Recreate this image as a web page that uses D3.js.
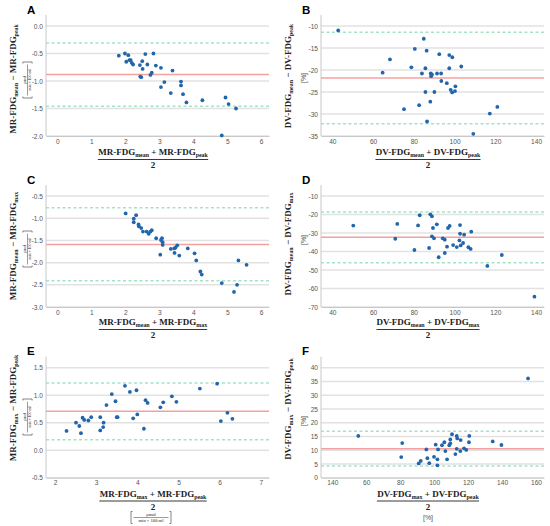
<!DOCTYPE html>
<html>
<head>
<meta charset="utf-8">
<script src="https://cdn.jsdelivr.net/npm/d3@7"></script>
<style>
body { margin: 0; background: #fff; }
</style>
</head>
<body>
<script>
//DATA
var aAvg  = [1.81,1.99,2.09,2.03,2.12,2.16,2.19,2.23,2.43,2.50,2.59,2.83,2.51,2.65,2.90,3.05,3.39,2.78,2.74,2.44,2.47,3.15,3.05,3.64,3.64,3.34,3.70,3.80,4.27,4.95,5.04,5.26,4.84];
var aDiff = [-0.54,-0.50,-0.53,-0.65,-0.62,-0.62,-0.67,-0.70,-0.71,-0.64,-0.51,-0.50,-0.78,-0.70,-0.72,-0.76,-0.81,-0.85,-0.89,-0.92,-0.93,-1.02,-1.11,-1.01,-1.08,-1.22,-1.24,-1.39,-1.35,-1.30,-1.42,-1.50,-1.99];

var bAvg  = [42.9,64.7,68.3,84.9,80.5,86.3,92.5,97.4,98.9,103.3,78.8,85.7,84.0,88.3,88.9,88.5,91.4,93.4,97.4,93.5,96.2,100.4,98.1,98.8,100.2,85.7,90.1,88.1,82.6,75.2,86.5,117.3,109.2,121.0];
var bDiff = [-11.0,-20.6,-17.6,-12.9,-15.2,-15.6,-16.4,-16.6,-17.1,-19.2,-19.4,-19.6,-20.8,-20.8,-21.0,-21.4,-20.8,-20.8,-19.6,-22.5,-23.0,-23.7,-24.5,-25.1,-24.8,-25.0,-25.0,-27.2,-28.0,-28.9,-31.7,-29.9,-34.5,-28.4];

var cAvg  = [2.01,2.32,2.25,2.25,2.39,2.40,2.47,2.52,2.63,2.69,2.74,2.78,2.91,3.05,3.08,3.10,3.10,3.03,3.34,3.44,3.48,3.53,3.45,3.59,3.84,4.04,4.09,4.21,4.25,4.84,5.29,5.20,5.33,5.57];
var cDiff = [-0.89,-0.93,-1.01,-1.09,-1.14,-1.18,-1.22,-1.30,-1.30,-1.35,-1.30,-1.27,-1.45,-1.49,-1.45,-1.54,-1.60,-1.82,-1.69,-1.68,-1.66,-1.61,-1.78,-1.84,-1.68,-1.79,-1.95,-2.20,-2.27,-2.46,-2.50,-2.66,-1.95,-2.05];

var dAvg  = [50.3,71.9,70.9,82.9,82.1,80.3,88.1,88.9,89.4,91.3,88.9,89.9,87.5,92.2,94.2,95.2,95.2,96.3,96.8,97.6,99.3,101.1,102.4,102.7,102.7,103.0,104.2,104.7,106.8,107.9,108.2,116.1,123.2,139.2];
var dDiff = [-26.0,-25.1,-33.1,-20.4,-25.9,-39.2,-19.9,-21.0,-27.3,-25.3,-31.8,-32.9,-38.1,-43.1,-32.9,-33.6,-40.8,-37.4,-27.3,-26.2,-36.5,-37.6,-34.0,-25.7,-30.4,-36.7,-35.4,-30.9,-37.7,-38.6,-29.3,-47.8,-41.9,-64.4];

var eAvg  = [2.28,2.51,2.59,2.63,2.67,2.71,2.81,2.88,3.10,3.10,3.17,3.18,3.25,3.38,3.47,3.50,3.52,3.70,3.82,3.90,3.98,4.00,4.16,4.20,4.25,4.56,4.63,4.84,4.95,5.52,5.94,6.03,6.19,6.31];
var eDiff = [0.35,0.50,0.44,0.31,0.59,0.55,0.54,0.60,0.60,0.36,0.42,0.50,0.82,1.02,0.89,0.60,0.60,1.17,1.06,0.58,1.09,0.65,0.39,0.91,0.86,0.78,0.87,0.98,0.88,1.12,1.21,0.53,0.68,0.57];

var fAvg  = [55.3,81.2,80.6,95.4,100.9,96.0,92.1,90.9,97.1,99.9,101.9,101.9,102.3,104.6,106.0,106.6,107.6,108.9,109.5,109.5,110.5,112.5,113.3,113.6,113.3,115.4,115.6,117.6,118.9,120.5,120.7,134.5,139.6,155.3];
var fDiff = [15.2,12.6,7.5,10.3,12.0,7.1,6.1,5.2,5.3,7.6,6.7,4.5,10.3,11.8,12.9,9.7,6.7,11.8,12.5,13.9,15.8,8.6,15.2,14.3,10.5,9.7,13.7,10.7,10.1,12.9,15.2,13.2,11.9,36.1];

//MEAN DIFFERENCE AND LIMITS OF AGREEMENT (A..F)
var meanDiff = [-0.88, -21.8, -1.59, -32.3, 0.71, 10.5];
var upperLoA = [-0.31, -11.4, -0.76, -18.6, 1.22, 16.9];
var lowerLoA = [-1.46, -32.2, -2.41, -46.1, 0.19, 4.3];

//TICKS
var aXTicks = [0,1,2,3,4,5,6],           aYTicks = [-2,-1.5,-1,-0.5,0];
var bXTicks = [40,60,80,100,120,140],    bYTicks = [-35,-30,-25,-20,-15,-10];
var cXTicks = [0,1,2,3,4,5,6],           cYTicks = [-3,-2.5,-2,-1.5,-1,-0.5];
var dXTicks = [40,60,80,100,120,140],    dYTicks = [-70,-60,-50,-40,-30,-20,-10];
var eXTicks = [2,3,4,5,6,7],             eYTicks = [-0.5,0,0.5,1,1.5];
var fXTicks = [40,60,80,100,120,140,160], fYTicks = [0,5,10,15,20,25,30,35,40];
var fXTickLabels = ["140","60","80","100","120","140","160"];

//LABELS
var panelLetters = ["A","B","C","D","E","F"];
var yTitles = ["MR-FDG_{mean} − MR-FDG_{peak}", "DV-FDG_{mean} − DV-FDG_{peak}",
               "MR-FDG_{mean} − MR-FDG_{max}",  "DV-FDG_{mean} − DV-FDG_{max}",
               "MR-FDG_{max} − MR-FDG_{peak}",  "DV-FDG_{max} − DV-FDG_{peak}"];
var xTitles = ["MR-FDG_{mean} + MR-FDG_{peak}", "DV-FDG_{mean} + DV-FDG_{peak}",
               "MR-FDG_{mean} + MR-FDG_{max}",  "DV-FDG_{mean} + DV-FDG_{max}",
               "MR-FDG_{max} + MR-FDG_{peak}",  "DV-FDG_{max} + DV-FDG_{peak}"];

//LAYOUT
var w = 550, h = 526;
var serif = "'Liberation Serif', 'Times New Roman', serif";
var sans = "'Liberation Sans', Arial, sans-serif";
var dotColor = "#2166ac";
var titleSize = 9;

const svg = d3.select("body").append("svg").attr("width", w).attr("height", h).style("background", "#fff");

var panels = [
  {x: aAvg, y: aDiff, xt: aXTicks, yt: aYTicks, xd: [-0.333, 6.23], yd: [-2.0, 0.2],   ox: 0,   oy: 0,   top: 15,   bot: 136,   unit: "mol", yc: 79, uc: 80},
  {x: bAvg, y: bDiff, xt: bXTicks, yt: bYTicks, xd: [34.45, 143.9], yd: [-35, -7.5],   ox: 275, oy: 0,   top: 15,   bot: 136,   unit: "%",   yc: 76, uc: 78},
  {x: cAvg, y: cDiff, xt: cXTicks, yt: cYTicks, xd: [-0.333, 6.23], yd: [-3.0, -0.25], ox: 0,   oy: 170, top: 15,   bot: 137,   unit: "mol", yc: 76, uc: 79},
  {x: dAvg, y: dDiff, xt: dXTicks, yt: dYTicks, xd: [34.45, 143.9], yd: [-70, -4.05],  ox: 275, oy: 170, top: 15,   bot: 137,   unit: "%",   yc: 74, uc: 70},
  {x: eAvg, y: eDiff, xt: eXTicks, yt: eYTicks, xd: [1.781, 7.2],   yd: [-0.5, 1.7],   ox: 0,   oy: 345, top: 11.7, bot: 132.7, unit: "mol", yc: 63, uc: 72, xunit: "mol"},
  {x: fAvg, y: fDiff, xt: fXTicks, yt: fYTicks, xd: [33.34, 164.7], yd: [0, 44],       ox: 275, oy: 345, top: 11.7, bot: 132.7, unit: "%",   yc: 64, uc: 76, xunit: "%"}
];

//TEXT WITH SUBSCRIPTS
function richText(t, str, size) {
  var parts = str.split(/_\{|\}/);
  var shift = 0;
  parts.forEach(function (p, i) {
    if (p === "") return;
    var sub = i % 2 === 1;
    var want = sub ? size * 0.25 : 0;
    t.append("tspan").text(p)
      .attr("font-size", sub ? size * 0.66 : size)
      .attr("dy", want - shift);
    shift = want;
  });
}

//SMALL [umol / (min x 100 ml)] FRACTION IN BRACKETS
function unitFrac(g, fs, half, hh) {
  g.append("text").attr("text-anchor", "middle").attr("y", -fs * 0.3)
    .attr("font-family", serif).attr("font-size", fs).attr("fill", "#222").text("μmol");
  g.append("line").attr("x1", -half + 2.5).attr("x2", half - 2.5).attr("y1", 0).attr("y2", 0)
    .attr("stroke", "#222").attr("stroke-width", 0.45);
  g.append("text").attr("text-anchor", "middle").attr("y", fs * 0.95)
    .attr("font-family", serif).attr("font-size", fs).attr("fill", "#222").text("min × 100 ml");
  var br = "M" + (-half + 1.5) + "," + (-hh) + "H" + (-half) + "V" + hh + "H" + (-half + 1.5) +
           "M" + (half - 1.5) + "," + (-hh) + "H" + half + "V" + hh + "H" + (half - 1.5);
  g.append("path").attr("d", br).attr("fill", "none").attr("stroke", "#333").attr("stroke-width", 0.6);
}

panels.forEach(function (p, i) {
  var g = svg.append("g").attr("transform", "translate(" + p.ox + "," + p.oy + ")");
  var x = d3.scaleLinear().domain(p.xd).range([46, 269]);
  var y = d3.scaleLinear().domain(p.yd).range([p.bot, p.top]);

  //GRIDLINES
  g.selectAll(".grid").data(p.yt).enter().append("line")
    .attr("x1", 46).attr("x2", 269)
    .attr("y1", function (d) { return y(d); }).attr("y2", function (d) { return y(d); })
    .attr("stroke", "#e2e2e2").attr("stroke-width", 1.5);

  //AXES
  var yAxis = d3.axisLeft(y).tickValues(p.yt).tickSize(0).tickPadding(3)
    .tickFormat(function (d) { return i % 2 === 0 ? d.toFixed(1) : String(d); });
  var xAxis = d3.axisBottom(x).tickValues(p.xt).tickSize(0).tickPadding(3)
    .tickFormat(function (d, k) { return i === 5 ? fXTickLabels[k] : String(d); });

  var ya = g.append("g").attr("transform", "translate(46,0)").call(yAxis);
  var xa = g.append("g").attr("transform", "translate(0," + p.bot + ")").call(xAxis);
  [ya, xa].forEach(function (a) {
    a.select(".domain").attr("stroke", "#c8c8c8").attr("stroke-width", 1);
    a.selectAll("text").attr("font-family", sans).attr("font-size", 6.6).attr("fill", "#555");
  });
  ya.select(".domain").attr("d", "M0," + p.top + "V" + p.bot);

  //MEAN AND LIMITS OF AGREEMENT
  g.append("line").attr("x1", 46).attr("x2", 269)
    .attr("y1", y(meanDiff[i])).attr("y2", y(meanDiff[i]))
    .attr("stroke", "#f4a0a0").attr("stroke-width", 1.5);
  [upperLoA[i], lowerLoA[i]].forEach(function (v) {
    g.append("line").attr("x1", 46).attr("x2", 269)
      .attr("y1", y(v)).attr("y2", y(v))
      .attr("stroke", "#a3e4c3").attr("stroke-width", 1.5).attr("stroke-dasharray", "3,2.5");
  });

  //POINTS
  g.selectAll(".dot").data(p.x).enter().append("circle")
    .attr("cx", function (d) { return x(d); })
    .attr("cy", function (d, k) { return y(p.y[k]); })
    .attr("r", 1.9).attr("fill", dotColor);

  //PANEL LETTER
  g.append("text").attr("x", 27).attr("y", i < 4 ? 14 : 10)
    .attr("font-family", sans).attr("font-weight", "bold")
    .attr("font-size", 11.5).text(panelLetters[i]);

  //Y TITLE
  var yt = g.append("text").attr("text-anchor", "middle")
    .attr("transform", "translate(15.5," + p.yc + ") rotate(-90)")
    .attr("font-family", serif).attr("font-weight", "bold").attr("fill", "#222");
  richText(yt, yTitles[i], titleSize);

  if (p.unit === "%") {
    g.append("text").attr("text-anchor", "middle")
      .attr("transform", "translate(31," + p.uc + ") rotate(-90)")
      .attr("font-family", sans).attr("font-size", 7).attr("fill", "#555").text("[%]");
  } else {
    unitFrac(g.append("g").attr("transform", "translate(27.5," + p.uc + ") rotate(-90)"), 3.9, 18, 4.6);
  }

  //X TITLE AS A FRACTION OVER 2
  var fy = i < 4 ? 0 : -3.5;
  var xt = g.append("text").attr("text-anchor", "middle")
    .attr("transform", "translate(153," + (155 + fy) + ")")
    .attr("font-family", serif).attr("font-weight", "bold").attr("fill", "#222");
  richText(xt, xTitles[i], titleSize);
  var bw = xt.node().getBBox().width;
  g.append("line").attr("x1", 153 - bw / 2).attr("x2", 153 + bw / 2)
    .attr("y1", 159.5 + fy).attr("y2", 159.5 + fy).attr("stroke", "#222").attr("stroke-width", 0.9);
  g.append("text").attr("text-anchor", "middle").attr("x", 153).attr("y", 168 + fy)
    .attr("font-family", serif).attr("font-weight", "bold").attr("font-size", titleSize).attr("fill", "#222").text("2");

  if (p.xunit === "%") {
    g.append("text").attr("text-anchor", "middle").attr("x", 153).attr("y", 175)
      .attr("font-family", sans).attr("font-size", 7).attr("fill", "#555").text("[%]");
  } else if (p.xunit) {
    unitFrac(g.append("g").attr("transform", "translate(151,172.5)"), 4.6, 20, 6);
  }
});
</script>
</body>
</html>
